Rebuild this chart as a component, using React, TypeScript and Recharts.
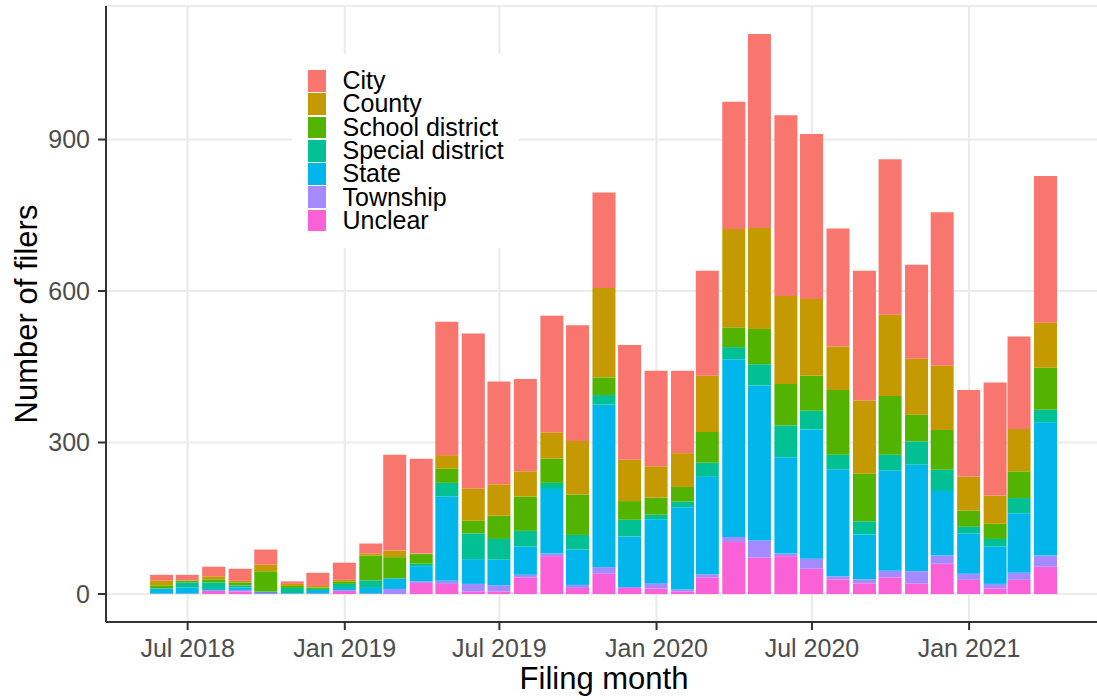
import React from 'react'
import { BarChart, Bar, XAxis, YAxis, CartesianGrid, Legend } from 'recharts'

const FONT = '"Liberation Sans", Arial, sans-serif'
const TICK_TEXT = { fill: '#4D4D4D', fontSize: 25, fontFamily: FONT }
const AXIS_LINE = { stroke: '#333333', strokeWidth: 2 }
const GRID = '#EBEBEB'

// filing months, one bar each
const MONTHS = [
  '2018-06', '2018-07', '2018-08', '2018-09', '2018-10', '2018-11', '2018-12',
  '2019-01', '2019-02', '2019-03', '2019-04', '2019-05', '2019-06', '2019-07',
  '2019-08', '2019-09', '2019-10', '2019-11', '2019-12', '2020-01', '2020-02',
  '2020-03', '2020-04', '2020-05', '2020-06', '2020-07', '2020-08', '2020-09',
  '2020-10', '2020-11', '2020-12', '2021-01', '2021-02', '2021-03', '2021-04',
]

const CITY = [11, 11, 19, 24, 30, 5, 26, 34, 20, 190, 188, 264, 307, 204, 183, 231, 229, 189, 227, 189, 163, 208, 252, 384, 358, 327, 234, 257, 308, 186, 304, 172, 224, 183, 291]
const COUNTY = [10, 1, 6, 3, 13, 4, 3, 3, 4, 13, 1, 27, 64, 62, 50, 52, 106, 177, 82, 62, 67, 111, 195, 200, 174, 152, 86, 145, 161, 111, 127, 67, 56, 84, 89]
const SCHOOL = [6, 3, 6, 6, 40, 4, 3, 5, 49, 42, 19, 28, 25, 46, 68, 48, 80, 35, 37, 34, 29, 61, 39, 70, 82, 69, 128, 94, 116, 53, 79, 32, 30, 53, 83]
const SPECIAL = [1, 10, 13, 4, 1, 10, 2, 8, 15, 0, 5, 27, 51, 41, 31, 12, 29, 19, 33, 9, 11, 28, 24, 42, 63, 37, 29, 26, 31, 46, 42, 13, 15, 30, 25]
const STATE = [9, 12, 3, 5, 2, 1, 7, 5, 11, 21, 30, 167, 49, 51, 56, 128, 70, 322, 100, 127, 163, 193, 352, 307, 191, 256, 212, 89, 199, 211, 128, 80, 74, 118, 264]
const TOWNSHIP = [1, 1, 0, 3, 0, 1, 0, 0, 0, 10, 3, 6, 15, 12, 5, 5, 6, 13, 2, 10, 4, 6, 10, 34, 5, 20, 6, 8, 13, 24, 16, 12, 9, 14, 22]
const UNCLEAR = [0, 0, 7, 5, 2, 0, 1, 7, 1, 0, 22, 20, 5, 5, 33, 75, 12, 40, 12, 11, 5, 33, 103, 72, 75, 50, 29, 21, 33, 21, 60, 28, 11, 28, 54]

const SERIES = [
  { key: 'City', color: '#F8766D', values: CITY },
  { key: 'County', color: '#C49A00', values: COUNTY },
  { key: 'School district', color: '#53B400', values: SCHOOL },
  { key: 'Special district', color: '#00C094', values: SPECIAL },
  { key: 'State', color: '#00B6EB', values: STATE },
  { key: 'Township', color: '#A58AFF', values: TOWNSHIP },
  { key: 'Unclear', color: '#FB61D7', values: UNCLEAR },
]

const MAJOR_MONTHS = ['2018-07', '2019-01', '2019-07', '2020-01', '2020-07', '2021-01']
const MAJOR_LABELS = ['Jul 2018', 'Jan 2019', 'Jul 2019', 'Jan 2020', 'Jul 2020', 'Jan 2021']
const MINOR_MONTHS = ['2018-04', '2018-10', '2019-04', '2019-10', '2020-04', '2020-10', '2021-04']
const Y_TICKS = [0, 300, 600, 900]
const Y_MINOR = [150, 450, 750, 1050]

const dayOf = (m: string) => Date.UTC(+m.slice(0, 4), +m.slice(5, 7) - 1, 1) / 86400000

const data = MONTHS.map((m, i) => {
  const row: Record<string, number> = { day: dayOf(m) }
  SERIES.forEach(s => { row[s.key] = s.values[i] })
  return row
})

const X_DOMAIN = [dayOf(MONTHS[0]) - 65.6, dayOf(MONTHS[MONTHS.length - 1]) + 65.6]
const Y_DOMAIN = [-55.45, 1164.45]
const majorDays = MAJOR_MONTHS.map(dayOf)

function XTitle(props: any) {
  const vb = props.viewBox || {}
  return (
    <text x={vb.x + vb.width / 2} y={vb.y + 66.5} textAnchor="middle" fontSize={31} fontFamily={FONT} fill="#000">
      Filing month
    </text>
  )
}

function YTitle(props: any) {
  const vb = props.viewBox || {}
  const cx = 36.5
  const cy = vb.y + vb.height / 2
  return (
    <text x={cx} y={cy} transform={`rotate(-90, ${cx}, ${cy})`} textAnchor="middle" fontSize={31} fontFamily={FONT} fill="#000">
      Number of filers
    </text>
  )
}

function LegendBox() {
  return (
    <div style={{ background: '#fff', width: 227, height: 194, boxSizing: 'border-box', padding: '15.2px 0 0 15.5px', fontFamily: FONT }}>
      {SERIES.map(s => (
        <div key={s.key} style={{ display: 'flex', alignItems: 'center', height: 23.3 }}>
          <div style={{ width: 18, height: 21.7, background: s.color }} />
          <span style={{ marginLeft: 17, fontSize: 25, lineHeight: '23.3px', color: '#000', whiteSpace: 'nowrap' }}>{s.key}</span>
        </div>
      ))}
    </div>
  )
}

export default function App() {
  return (
    <div style={{ position: 'fixed', left: 0, top: 0, width: 1097, height: 700, overflow: 'hidden', background: '#fff' }}>
      <BarChart width={1104} height={700} data={data} margin={{ top: 6, right: 2, bottom: 0, left: 0 }} style={{ fontFamily: FONT }}>
        <XAxis
          xAxisId="main"
          dataKey="day"
          type="number"
          domain={X_DOMAIN}
          allowDataOverflow
          ticks={majorDays}
          interval={0}
          tickFormatter={v => MAJOR_LABELS[majorDays.indexOf(v)] ?? ''}
          tick={TICK_TEXT}
          tickSize={8}
          tickMargin={9}
          tickLine={AXIS_LINE}
          axisLine={AXIS_LINE}
          height={78}
          label={{ content: XTitle }}
        />
        <XAxis
          xAxisId="minor"
          dataKey="day"
          type="number"
          domain={X_DOMAIN}
          allowDataOverflow
          ticks={MINOR_MONTHS.map(dayOf)}
          interval={0}
          tick={false}
          tickLine={false}
          axisLine={false}
          height={0}
        />
        <XAxis
          xAxisId="top"
          orientation="top"
          dataKey="day"
          type="number"
          domain={X_DOMAIN}
          allowDataOverflow
          tick={false}
          tickLine={false}
          axisLine={AXIS_LINE}
          height={0}
        />
        <YAxis
          yAxisId="main"
          type="number"
          domain={Y_DOMAIN}
          allowDataOverflow
          ticks={Y_TICKS}
          interval={0}
          tick={TICK_TEXT}
          tickSize={8}
          tickMargin={8}
          tickLine={AXIS_LINE}
          axisLine={AXIS_LINE}
          width={106}
          label={{ content: YTitle }}
        />
        <YAxis
          yAxisId="minor"
          type="number"
          domain={Y_DOMAIN}
          allowDataOverflow
          ticks={Y_MINOR}
          interval={0}
          tick={false}
          tickLine={false}
          axisLine={false}
          width={0}
        />
        <CartesianGrid xAxisId="minor" yAxisId="minor" stroke={GRID} strokeWidth={1.1} />
        <CartesianGrid xAxisId="main" yAxisId="main" stroke={GRID} strokeWidth={2.2} />
        {[...SERIES].reverse().map(s => (
          <Bar
            key={s.key}
            dataKey={s.key}
            stackId="filers"
            xAxisId="main"
            yAxisId="main"
            fill={s.color}
            barSize={23}
            isAnimationActive={false}
          />
        ))}
        <Legend
          layout="vertical"
          align="center"
          verticalAlign="middle"
          wrapperStyle={{ left: 292, top: 54, width: 227 }}
          content={() => <LegendBox />}
        />
      </BarChart>
    </div>
  )
}
